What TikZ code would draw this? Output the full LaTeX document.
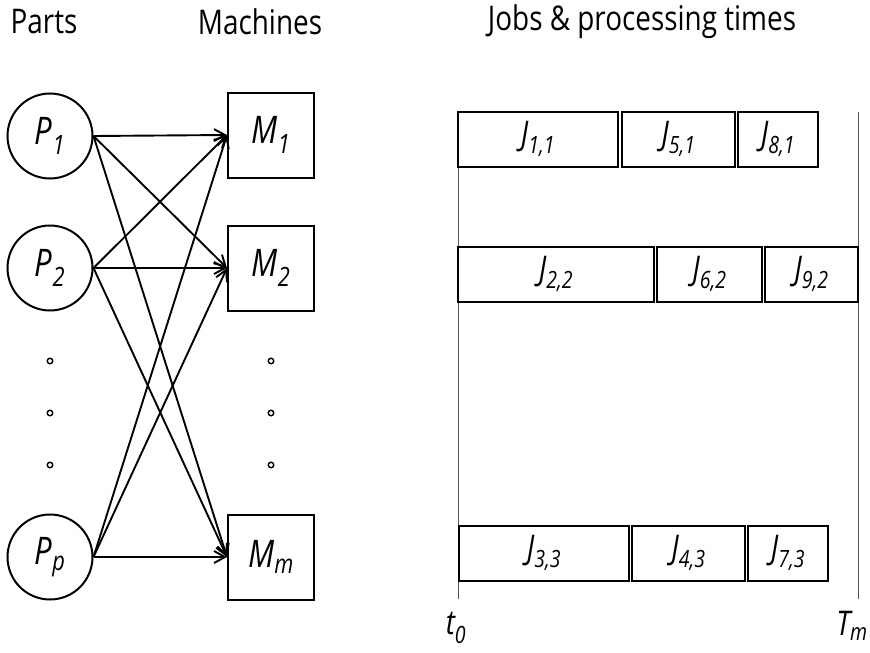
\documentclass[tikz,border=0pt]{standalone}
\usepackage{fontspec}
\setmainfont{Open Sans}[FakeStretch=0.82]
\usepackage{tikz}
\usetikzlibrary{arrows.meta, shapes, positioning}
\newcommand{\hdrfont}{\fontsize{34}{38}\selectfont}
\newcommand{\lblfont}{\fontsize{38}{42}\selectfont\itshape}
\newcommand{\jbfont}{\fontsize{34}{38}\selectfont\itshape}
\newcommand{\axfont}{\fontsize{34}{38}\selectfont\itshape}
\tikzstyle{part} = [circle, draw=black, line width=2pt, minimum size=85pt, inner sep=0, font=\lblfont]
\tikzstyle{machine} = [rectangle, draw=black, line width=2pt, minimum width=86pt, minimum height=85pt,
                       inner sep=0, font=\lblfont]
\tikzstyle{job} = [rectangle, draw=black, line width=2pt, minimum height=55pt, inner sep=0, font=\jbfont]
\tikzstyle{link} = [line width=1.9pt, -{Straight Barb[length=11pt, width=12pt]}]
\tikzstyle{dotmark} = [circle, draw=black, line width=1.4pt, minimum size=5.5pt, inner sep=0]
\tikzstyle{timeline} = [draw=black!65, line width=0.9pt]

\begin{document}
\begin{tikzpicture}[x=1pt, y=-1pt]
				\useasboundingbox (0, 0) rectangle (870, 653);

				\node (PartsHead) [font=\hdrfont] at (44, 22) {Parts};
				\node (MachHead) [font=\hdrfont] at (260, 22) {Machines};
				\node (JobsHead) [font=\hdrfont] at (642, 22) {Jobs \& processing times};

				\node (P1) [part] at (50, 136) {P\textsubscript{1}};
				\node (P2) [part] at (50, 268) {P\textsubscript{2}};
				\node (Pp) [part] at (50, 557) {P\textsubscript{p}};

				\node (M1) [machine] at (271, 135) {M\textsubscript{1}};
				\node (M2) [machine] at (271, 268) {M\textsubscript{2}};
				\node (Mm) [machine] at (271, 557) {M\textsubscript{m}};

				\node (LDot1) [dotmark] at (50, 361) {};
				\node (LDot2) [dotmark] at (50, 413) {};
				\node (LDot3) [dotmark] at (50, 465) {};
				\node (RDot1) [dotmark] at (271, 361) {};
				\node (RDot2) [dotmark] at (271, 413) {};
				\node (RDot3) [dotmark] at (271, 465) {};

				\draw [link] (P1.east) -- (M1.west);
				\draw [link] (P1.east) -- (M2.west);
				\draw [link] (P1.east) -- (Mm.west);
				\draw [link] (P2.east) -- (M1.west);
				\draw [link] (P2.east) -- (M2.west);
				\draw [link] (P2.east) -- (Mm.west);
				\draw [link] (Pp.east) -- (M1.west);
				\draw [link] (Pp.east) -- (M2.west);
				\draw [link] (Pp.east) -- (Mm.west);

				\coordinate (StartTop) at (458, 112);
				\coordinate (StartBot) at (458, 599);
				\draw [timeline] (StartTop) -- (StartBot);
				\coordinate (EndTop) at (858, 112);
				\coordinate (EndBot) at (858, 599);
				\draw [timeline] (EndTop) -- (EndBot);

				\node (T0) [font=\axfont] at (456, 628) {t\textsubscript{0}};
				\node (Tm) [font=\axfont] at (852, 626) {T\textsubscript{m}};

				\node (J11) [job, minimum width=160pt] at (538, 139) {J\textsubscript{1,1}};
				\node (J51) [job, minimum width=113pt] at (678.5, 139) {J\textsubscript{5,1}};
				\node (J81) [job, minimum width=80pt] at (778, 139) {J\textsubscript{8,1}};

				\node (J22) [job, minimum width=196pt] at (556, 274) {J\textsubscript{2,2}};
				\node (J62) [job, minimum width=105pt] at (709.5, 274) {J\textsubscript{6,2}};
				\node (J92) [job, minimum width=93pt] at (811.5, 274) {J\textsubscript{9,2}};

				\node (J33) [job, minimum width=170pt] at (544, 553) {J\textsubscript{3,3}};
				\node (J43) [job, minimum width=113pt] at (688.5, 553) {J\textsubscript{4,3}};
				\node (J73) [job, minimum width=80pt] at (788, 553) {J\textsubscript{7,3}};
\end{tikzpicture}
\end{document}
